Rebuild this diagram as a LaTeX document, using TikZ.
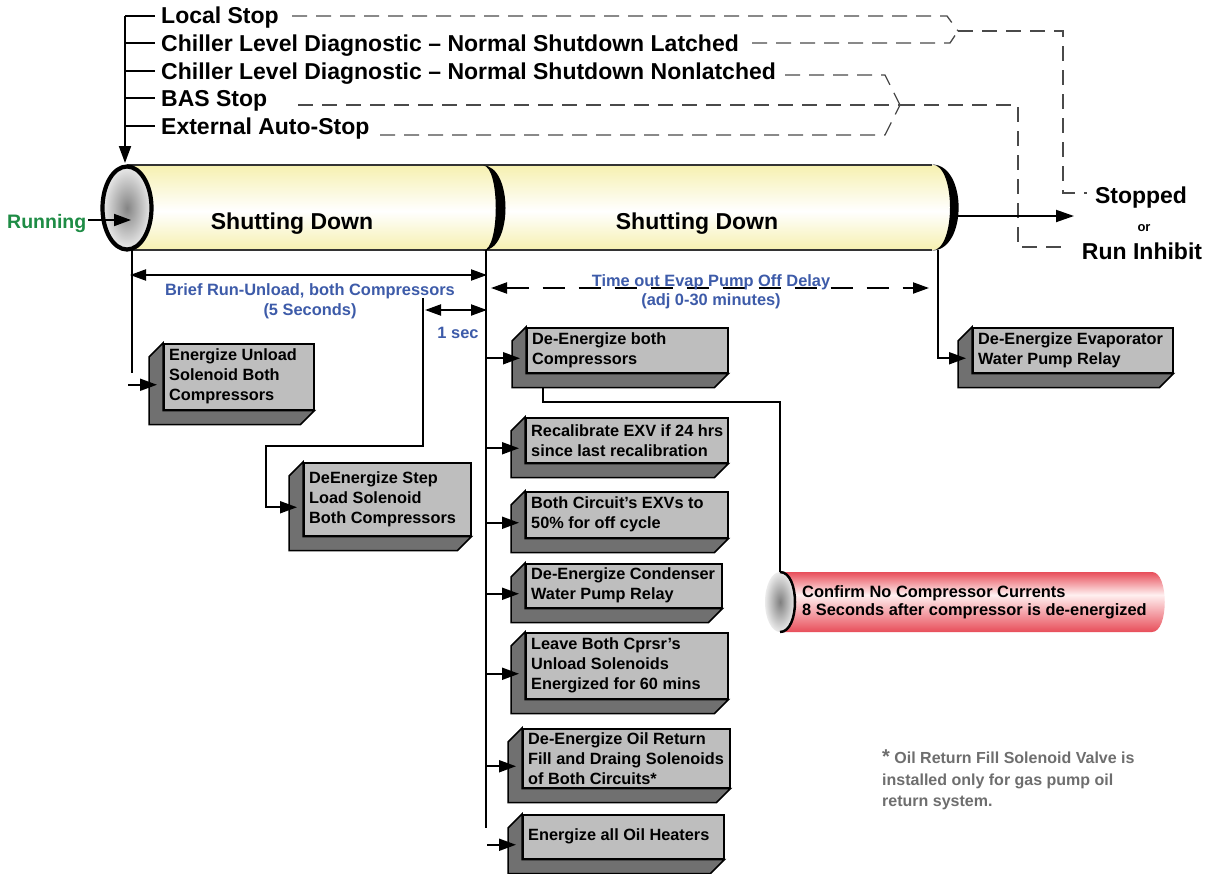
\documentclass[tikz,border=0pt]{standalone}
\usepackage{fontspec}
\setmainfont{Liberation Sans}
\usetikzlibrary{arrows.meta,calc}
\definecolor{boxfront}{HTML}{BEBEBE}
\definecolor{boxside}{HTML}{707070}
\definecolor{lblue}{HTML}{3D5BA9}
\definecolor{rgreen}{HTML}{1E8C45}
\definecolor{notegray}{HTML}{6E6E6E}
\definecolor{ycyl}{HTML}{F6F0B0}
\definecolor{rcyl}{HTML}{E84E5A}
\definecolor{rlight}{HTML}{FFF0F0}
\definecolor{dashgray}{HTML}{4A4A4A}
\pgfdeclareverticalshading{yelshade}{100bp}{color(0bp)=(ycyl); color(25bp)=(ycyl); color(48bp)=(white); color(75bp)=(ycyl); color(100bp)=(ycyl)}
\pgfdeclareverticalshading{redshade}{100bp}{color(0bp)=(rcyl); color(25bp)=(rcyl); color(56bp)=(rlight); color(75bp)=(rcyl); color(100bp)=(rcyl)}
\newcommand\bevbox[6]{%
  \node[front, minimum width={#4-#2}, minimum height={#5-#3}, anchor=north west] (#1) at (#2,#3) {};
  \filldraw[fill=boxside, draw=black, line width=1.5pt] (#1.north west) -- ++(-14,14) -- ([shift={(-14,14)}]#1.south west) -- ([shift={(-14,14)}]#1.south east) -- (#1.south east) -- (#1.south west) -- cycle;
  \node[boxtext, anchor=west] (#1t) at ([xshift=6pt]#1.west) {#6};
  \coordinate (#1in) at ([shift={(-6,8)}]#1.west);
}
\begin{document}
\begin{tikzpicture}[x=1pt,y=-1pt,
  conn/.style={line width=1.9pt, black},
  arr/.style={conn, -{Triangle[length=17pt,width=12pt]}},
  dimarr/.style={line width=2pt, {Triangle[length=16pt,width=11pt]}-{Triangle[length=16pt,width=11pt]}},
  bracketline/.style={dashgray, line width=1.3pt, dash pattern=on 15pt off 9pt},
  front/.style={draw=black, line width=1.5pt, fill=boxfront, inner sep=0pt, rectangle},
  boxtext/.style={font=\fontsize{16.3}{20}\selectfont\bfseries, align=left, inner sep=0pt},
  toplbl/.style={font=\fontsize{23}{26}\selectfont\bfseries, inner sep=0pt, anchor=base west},
  biglbl/.style={font=\fontsize{23}{26}\selectfont\bfseries, inner sep=0pt, anchor=base},
  bluelbl/.style={font=\fontsize{16.4}{20}\selectfont\bfseries, text=lblue, inner sep=0pt, anchor=base},
]
\fill[white] (0,0) rectangle (1207,873);
\useasboundingbox (0,0) rectangle (1207,873);

% ---------- main cylinder ----------
\shade[shading=yelshade] (127,165) -- (932,165) .. controls (961,165) and (961,250) .. (932,250) -- (127,250) -- cycle;
\draw[line width=1.4pt, black!80] (127,165) -- (932,165) (127,250) -- (932,250);
\fill (483,165.5) .. controls (513,165.5) and (513,250.5) .. (483,250.5) .. controls (500,250.5) and (500,165.5) .. (483,165.5) -- cycle;
\fill (932,164.5) .. controls (967.5,164.5) and (967.5,250.5) .. (932,250.5) .. controls (956,250.5) and (956,164.5) .. (932,164.5) -- cycle;
\shade[inner color=black!48, outer color=white!92!black] (127,208) ellipse [x radius=24.5, y radius=41.5];
\draw[line width=4.2pt] (127,208) ellipse [x radius=24.5, y radius=41.5];
\node[biglbl] (sd1) at (292,229) {Shutting Down};
\node[biglbl] (sd2) at (697,229) {Shutting Down};

% ---------- inputs ----------
\coordinate (in0) at (125,16);
\coordinate (in1) at (125,163);
\draw[arr] (in0) -- (in1);
\node[toplbl] (s1) at (161,23) {Local Stop};
\node[toplbl] (s2) at (161,51) {Chiller Level Diagnostic – Normal Shutdown Latched};
\node[toplbl] (s3) at (161,79) {Chiller Level Diagnostic – Normal Shutdown Nonlatched};
\node[toplbl] (s4) at (161,106) {BAS Stop};
\node[toplbl] (s5) at (161,134) {External Auto-Stop};
\foreach \yy in {16,43,71,98,126} \draw[conn] (125,\yy) -- (155,\yy);

% ---------- brackets ----------
\coordinate (j1) at (958,31);
\coordinate (j2) at (900,105);
\draw[bracketline] (292,16) -- (947,16) -- (j1);
\draw[bracketline] (752,43) -- (950,43) -- (j1);
\draw[bracketline] (j1) -- (1063,31) -- (1063,193) -- (1087,193);
\draw[bracketline] (785,75) -- (885,75) -- (j2);
\draw[bracketline] (298,105) -- (j2);
\draw[bracketline] (380,135) -- (885,135) -- (j2);
\draw[bracketline] (j2) -- (1018,105) -- (1018,247) -- (1067,247);

% ---------- running / output ----------
\node[font=\fontsize{19.5}{22}\selectfont\bfseries, text=rgreen, inner sep=0pt, anchor=base west] (run) at (7,228) {Running};
\draw[arr] (run.east |- 0,220) ++(2,0) -- (131,220);
\node[biglbl] (stp) at (1141,203) {Stopped};
\node[font=\fontsize{13}{15}\selectfont\bfseries, inner sep=0pt, anchor=base] (orl) at (1144,231) {or};
\node[biglbl] (rinh) at (1142,259) {Run Inhibit};
\coordinate (outs) at (958,216);
\draw[arr, -{Triangle[length=18pt,width=12pt]}] (outs) -- (1074,216);

% ---------- boxes ----------
\bevbox{b1}{163}{343}{313}{409}{Energize Unload\\Solenoid Both\\Compressors}
\bevbox{b2}{303}{462}{470}{535}{DeEnergize Step\\Load Solenoid\\Both Compressors}
\bevbox{b3}{526}{327}{727}{372}{De-Energize both\\Compressors}
\bevbox{b4}{525}{417}{727}{462}{Recalibrate EXV if 24 hrs\\since last recalibration}
\bevbox{b5}{525}{491}{727}{537}{Both Circuit’s EXVs to\\50\% for off cycle}
\bevbox{b6}{525}{563}{721}{607}{De-Energize Condenser\\Water Pump Relay}
\bevbox{b7}{525}{632}{727}{698}{Leave Both Cprsr’s\\Unload Solenoids\\Energized for 60 mins}
\bevbox{b8}{522}{728}{729}{787}{De-Energize Oil Return\\Fill and Draing Solenoids\\of Both Circuits*}
\bevbox{b9}{522}{814}{723}{858}{Energize all Oil Heaters}
\bevbox{b10}{972}{327}{1172}{372}{De-Energize Evaporator\\Water Pump Relay}

% ---------- timing lines ----------
\coordinate (lv) at (132,250);
\coordinate (trunk) at (486,250);
\coordinate (rv) at (938,250);
\coordinate (os) at (423,298);
\coordinate (k2) at (266,446);
\draw[conn] (lv) -- (132,373);
\draw[arr] ([xshift=-4pt]lv |- b1in) -- (b1in);
\draw[conn] (trunk) -- (486,828);
\foreach \b in {b3,b4,b5,b6,b7,b8} \draw[arr] (trunk |- \b in) -- (\b in);
\draw[arr] ([xshift=1pt]trunk |- b9in) -- (b9in);
\draw[arr] (os) |- (k2) |- (b2in);
\draw[arr] (rv) |- (b10in);

\draw[dimarr] (130,275) -- (487,275);
\node[bluelbl] (brief1) at (310,295) {Brief Run-Unload, both Compressors};
\node[bluelbl] (brief2) at (310,315) {(5 Seconds)};
\draw[dimarr] (425,310) -- (487,310);
\node[bluelbl] (onesec) at (458,338) {1 sec};
\draw[dimarr, dash pattern=on 22pt off 14pt] (491,288) -- (929,288);
\node[bluelbl] (to1) at (711,286) {Time out Evap Pump Off Delay};
\node[bluelbl] (to2) at (711,305) {(adj 0-30 minutes)};

% ---------- red cylinder ----------
\shade[shading=redshade] (780,572) -- (1152,572) .. controls (1169,572) and (1169,632) .. (1152,632) -- (780,632) -- cycle;
\shade[inner color=black!50, outer color=white!92!black] (780,602) ellipse [x radius=15, y radius=30];
\draw[line width=2.5pt] (780,572) .. controls (800,572) and (800,632) .. (780,632);
\node[font=\fontsize{16.4}{18}\selectfont\bfseries, inner sep=0pt, anchor=base west] (cf1) at (802,597) {Confirm No Compressor Currents};
\node[font=\fontsize{16.4}{18}\selectfont\bfseries, inner sep=0pt, anchor=base west] (cf2) at (802,615) {8 Seconds after compressor is de-energized};
\coordinate (redtop) at (780,572);
\coordinate (b3out) at ([shift={(17,14)}]b3.south west);
\coordinate (k3) at (0,402);
\draw[conn] (b3out) -- (b3out |- k3) -- (redtop |- k3) -- (redtop);

% ---------- note ----------
\node[font=\fontsize{16}{21}\selectfont\bfseries, text=notegray, inner sep=0pt, anchor=base west] (n1) at (882,763) {{\fontsize{20}{21}\selectfont *} Oil Return Fill Solenoid Valve is};
\node[font=\fontsize{16}{21}\selectfont\bfseries, text=notegray, inner sep=0pt, anchor=base west] (n2) at (882,785) {installed only for gas pump oil};
\node[font=\fontsize{16}{21}\selectfont\bfseries, text=notegray, inner sep=0pt, anchor=base west] (n3) at (882,806) {return system.};
\end{tikzpicture}
\end{document}
